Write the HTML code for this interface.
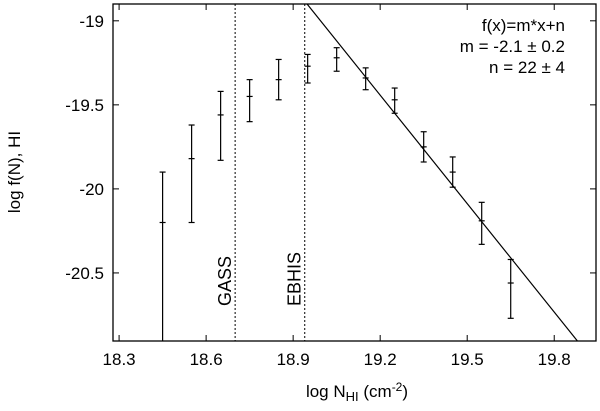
<!DOCTYPE html>
<html><head><meta charset="utf-8"><style>
html,body{margin:0;padding:0;background:#fff;}
svg{display:block;font-family:"Liberation Sans",sans-serif;}
</style></head><body>
<svg id="chart" width="600" height="411" viewBox="0 0 600 411">
<rect x="113" y="4" width="483" height="337" fill="none" stroke="#000" stroke-width="1.3"/>
<g id="ticks"></g>
<g id="marks"></g>
<text x="20" y="172" transform="rotate(-90 20 172)" text-anchor="middle" font-size="17">log f(N), HI</text>
<text x="357" y="397" text-anchor="middle" font-size="17">log N<tspan font-size="13" dy="4">HI</tspan><tspan dy="-4"> (cm</tspan><tspan font-size="12" dy="-6">-2</tspan><tspan dy="6">)</tspan></text>
<text x="565" y="31" text-anchor="end" font-size="17">f(x)=m*x+n</text>
<text x="565" y="52" text-anchor="end" font-size="17">m = -2.1 ± 0.2</text>
<text x="565" y="73" text-anchor="end" font-size="17">n = 22 ± 4</text>
</svg>
<script>
const xVals=[18.45,18.55,18.65,18.75,18.85,18.95,19.05,19.15,19.25,19.35,19.45,19.55,19.65];
const yVals=[-20.2,-19.82,-19.56,-19.45,-19.35,-19.27,-19.22,-19.34,-19.47,-19.75,-19.9,-20.19,-20.56];
const yHi=[-19.9,-19.62,-19.42,-19.35,-19.23,-19.2,-19.16,-19.28,-19.4,-19.66,-19.81,-20.08,-20.42];
const yLo=[-21.2,-20.2,-19.83,-19.6,-19.47,-19.37,-19.3,-19.41,-19.55,-19.84,-19.99,-20.33,-20.77];
const xTicks=[18.3,18.6,18.9,19.2,19.5,19.8];
const yTicks=[-19,-19.5,-20,-20.5];
const vLines=[18.7,18.94];
const vLabels=["GASS","EBHIS"];
const fitX=[18.948,19.88];
const fitY=[-18.9,-20.905];
const X0=113,X1=596,Y0=4,Y1=341;
const xMin=18.279,xMax=19.944,yMin=-20.905,yMax=-18.9;
const sx=v=>X0+(v-xMin)/(xMax-xMin)*(X1-X0);
const sy=v=>Y1-(v-yMin)/(yMax-yMin)*(Y1-Y0);
const NS="http://www.w3.org/2000/svg";
const T=document.getElementById('ticks'),M=document.getElementById('marks');
function mk(tag,attrs,parent){const e=document.createElementNS(NS,tag);for(const k in attrs)e.setAttribute(k,attrs[k]);parent.appendChild(e);return e;}
xTicks.forEach(v=>{const x=sx(v);
 const a=mk('line',{x1:x,x2:x,y1:Y1,y2:Y1-6,stroke:'#000'},T);
 
 
 const b=mk('line',{x1:x,x2:x,y1:Y0,y2:Y0+6,stroke:'#000'},T);
 
 
 const t=mk('text',{x:x,y:Y1+24,'text-anchor':'middle','font-size':17},T);t.textContent=v.toFixed(1);
 
 
});
yTicks.forEach(v=>{const y=sy(v);
 const a=mk('line',{x1:X0,x2:X0+6,y1:y,y2:y,stroke:'#000'},T);
 
 
 const b=mk('line',{x1:X1,x2:X1-6,y1:y,y2:y,stroke:'#000'},T);
 
 
 const t=mk('text',{x:X0-9,y:y+6,'text-anchor':'end','font-size':17},T);t.textContent=String(v);
 
 
});
vLines.forEach((v,i)=>{const x=sx(v);
 const l=mk('line',{x1:x,x2:x,y1:Y0,y2:Y1,stroke:'#000','stroke-dasharray':'2,2'},M);
 
 
 const t=mk('text',{x:x-4,y:306,transform:`rotate(-90 ${x-4} 306)`,'font-size':18},M);t.textContent=vLabels[i];
 
 
});
const fl=mk('line',{x1:sx(fitX[0]),y1:sy(fitY[0]),x2:sx(fitX[1]),y2:sy(fitY[1]),stroke:'#000','stroke-width':1.2},M);


xVals.forEach((v,i)=>{const x=sx(v),y=sy(yVals[i]);
 const hi=Math.max(Y0,sy(yHi[i])),lo=Math.min(Y1,sy(yLo[i]));
 const g=mk('g',{stroke:'#000','stroke-width':1.2},M);
 
 
 mk('line',{x1:x,x2:x,y1:hi,y2:lo},g);
 if(sy(yHi[i])>Y0) mk('line',{x1:x-3,x2:x+3,y1:hi,y2:hi},g);
 if(sy(yLo[i])<Y1) mk('line',{x1:x-3,x2:x+3,y1:lo,y2:lo},g);
 mk('line',{x1:x-3,x2:x+3,y1:y,y2:y},g);
});
</script>
</body></html>
